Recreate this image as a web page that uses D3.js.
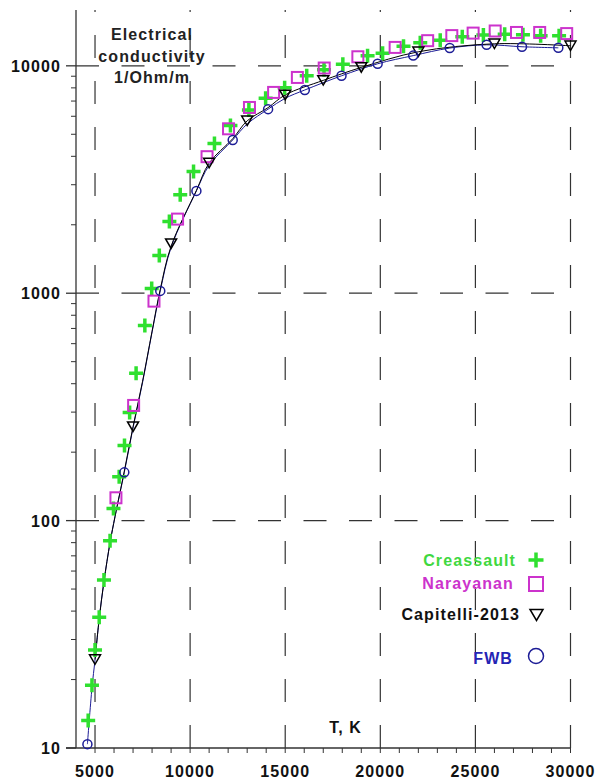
<!DOCTYPE html>
<html>
<head>
<meta charset="utf-8">
<script src="https://cdn.jsdelivr.net/npm/d3@7"></script>
<style>
  body { margin: 0; background: #fff; }
  text { font-family: "Liberation Sans", Arial, sans-serif; font-weight: bold; font-size: 16px; letter-spacing: 1.1px; }
</style>
</head>
<body>
<div id="chart"></div>
<script>
const width = 600;
const height = 781;

// data (T in K, conductivity in 1/Ohm/m)
const creassaultT = [4640, 4840, 5000, 5220, 5470, 5790, 5970, 6270, 6550, 6820, 7160, 7620, 7980, 8380, 8910, 9480, 10180, 11280, 12120, 13090, 13970, 14970, 16130, 17040, 18030, 19330, 20120, 21220, 22100, 23150, 24310, 25420, 26540, 27500, 28430, 29400];
const creassaultV = [13.2, 18.9, 27, 37.6, 54.8, 81.6, 113, 156, 214, 299, 445, 722, 1050, 1466, 2065, 2711, 3430, 4550, 5470, 6400, 7210, 8010, 9040, 9600, 10160, 11070, 11370, 12190, 12620, 12940, 13420, 13680, 13770, 13700, 13550, 13550];

const narayananT = [6100, 7030, 8100, 9340, 10890, 12020, 13120, 14390, 15640, 17050, 18820, 20780, 22490, 23760, 24880, 26040, 27160, 28380, 29800];
const narayananV = [126, 321, 923, 2118, 3985, 5285, 6560, 7640, 8890, 9780, 10960, 12050, 12900, 13580, 13930, 14230, 14020, 14020, 13860];

const capitelliT = [5000, 7000, 9000, 11000, 13000, 15000, 17000, 19000, 22000, 26000, 30000];
const capitelliV = [24.5, 259, 1652, 3736, 5730, 7450, 8630, 9840, 11530, 12500, 12250];

const fwbT = [4600, 6540, 8430, 10330, 12240, 14100, 16030, 17960, 19860, 21730, 23650, 25590, 27450, 29360];
const fwbV = [10.4, 163, 1024, 2818, 4720, 6450, 7830, 9040, 10210, 11090, 11970, 12370, 12130, 12000];

// calculated curves
const capLineT = [5000, 5220, 5470, 5790, 6050, 6540, 7000, 7500, 8000, 8430, 9000, 10330, 11000, 12240, 13000, 14100, 15000, 17000, 19000, 22000, 26000, 30000];
const capLineV = [24.5, 37, 54, 80, 104, 165, 259, 410, 680, 1040, 1610, 2830, 3736, 4780, 5730, 6550, 7450, 8630, 9840, 11530, 12500, 12250];
const fwbLineT = [4600, 4840, 5000, 5220, 5470, 5790, 6050, 6540, 7000, 7500, 8000, 8430, 9000, 10330, 11000, 12240, 13000, 14100, 15000, 16030, 17960, 19860, 21730, 23650, 25590, 27450, 29360];
const fwbLineV = [10.4, 18.4, 24.4, 37, 54, 80, 104, 163, 256, 405, 675, 1024, 1590, 2818, 3650, 4720, 5550, 6450, 7200, 7830, 9040, 10210, 11090, 11970, 12370, 12130, 12000];

const xTicks = [5000, 10000, 15000, 20000, 25000, 30000];
const yTicks = [10, 100, 1000, 10000];
const titleLines = ["Electrical", "conductivity", "1/Ohm/m"];

const colGreen = "#2fe02f";
const colMagenta = "#cc33cc";
const colNavy = "#1c1c96";

const zip = (a, b) => a.map((d, i) => [d, b[i]]);

const svg = d3.select("#chart")
  .append("svg")
  .attr("width", width)
  .attr("height", height);

const x = d3.scaleLinear().domain([4000, 30000]).range([76, 570.5]);
const y = d3.scaleLog().domain([10, 17600]).range([748, 10]);

// dashed grid
svg.append("g")
  .selectAll("line")
  .data(xTicks)
  .join("line")
    .attr("x1", d => x(d)).attr("x2", d => x(d))
    .attr("y1", y(10)).attr("y2", y.range()[1])
    .attr("stroke", "#333")
    .attr("stroke-width", 1.2)
    .attr("stroke-dasharray", "23,23");

svg.append("g")
  .selectAll("line")
  .data(yTicks.slice(1))
  .join("line")
    .attr("x1", x(4000)).attr("x2", x(30000))
    .attr("y1", d => y(d)).attr("y2", d => y(d))
    .attr("stroke", "#333")
    .attr("stroke-width", 1.2)
    .attr("stroke-dasharray", "23,22.5");

// y axis
const minorY = [];
for (let dec = 10; dec < 10000; dec *= 10) {
  for (let k = 2; k <= 9; k++) minorY.push(dec * k);
}
svg.append("line")
  .attr("x1", x(4000)).attr("x2", x(4000))
  .attr("y1", y(10)).attr("y2", y.range()[1])
  .attr("stroke", "#333").attr("stroke-width", 1.3);
svg.append("g")
  .selectAll("line")
  .data(minorY)
  .join("line")
    .attr("x1", x(4000) - 5).attr("x2", x(4000))
    .attr("y1", d => y(d)).attr("y2", d => y(d))
    .attr("stroke", "#333");
svg.append("g")
  .selectAll("line")
  .data(yTicks)
  .join("line")
    .attr("x1", x(4000) - 10).attr("x2", x(4000))
    .attr("y1", d => y(d)).attr("y2", d => y(d))
    .attr("stroke", "#333").attr("stroke-width", 1.3);
svg.append("g")
  .selectAll("text")
  .data(yTicks)
  .join("text")
    .attr("x", 61)
    .attr("y", d => y(d) + 6)
    .attr("text-anchor", "end")
    .attr("fill", "#111")
    .text(d => d);

// x axis
svg.append("line")
  .attr("x1", x(4000) - 10).attr("x2", x(30000))
  .attr("y1", y(10)).attr("y2", y(10))
  .attr("stroke", "#333").attr("stroke-width", 1.3);
svg.append("g")
  .selectAll("line")
  .data(d3.range(5000, 30001, 1000))
  .join("line")
    .attr("x1", d => x(d)).attr("x2", d => x(d))
    .attr("y1", y(10)).attr("y2", y(10) + 5)
    .attr("stroke", "#333");
svg.append("g")
  .selectAll("text")
  .data(xTicks)
  .join("text")
    .attr("x", d => x(d))
    .attr("y", 777)
    .attr("text-anchor", "middle")
    .attr("fill", "#111")
    .text(d => d);

svg.append("text")
  .attr("x", 362).attr("y", 733)
  .attr("text-anchor", "end")
  .attr("fill", "#111")
  .text("T, K");

svg.append("g")
  .selectAll("text")
  .data(titleLines)
  .join("text")
    .attr("x", 152)
    .attr("y", (d, i) => 40 + i * 21.5)
    .attr("text-anchor", "middle")
    .attr("fill", "#222")
    .text(d => d);

// curves
const line = d3.line()
  .x(d => x(d[0]))
  .y(d => y(d[1]))
  .curve(d3.curveCatmullRom.alpha(0.5));

svg.append("path")
  .attr("d", line(zip(fwbLineT, fwbLineV)))
  .attr("fill", "none")
  .attr("stroke", colNavy)
  .attr("stroke-width", 1);
svg.append("path")
  .attr("d", line(zip(capLineT, capLineV)))
  .attr("fill", "none")
  .attr("stroke", "#000")
  .attr("stroke-width", 1);

// markers
function plus(g, cx, cy, h, w) {
  g.append("path")
    .attr("d", `M${cx - h},${cy}H${cx + h}M${cx},${cy - h}V${cy + h}`)
    .attr("stroke", colGreen)
    .attr("stroke-width", w)
    .attr("fill", "none");
}
function square(g, cx, cy, s) {
  g.append("rect")
    .attr("x", cx - s / 2).attr("y", cy - s / 2)
    .attr("width", s).attr("height", s)
    .attr("fill", "none")
    .attr("stroke", colMagenta)
    .attr("stroke-width", 2);
}
function triangle(g, cx, cy, w, h) {
  g.append("path")
    .attr("d", `M${cx - w / 2},${cy - h / 2}L${cx + w / 2},${cy - h / 2}L${cx},${cy + h / 2}Z`)
    .attr("fill", "none")
    .attr("stroke", "#000")
    .attr("stroke-width", 1.5);
}
function circle(g, cx, cy, r) {
  g.append("circle")
    .attr("cx", cx).attr("cy", cy).attr("r", r)
    .attr("fill", "none")
    .attr("stroke", colNavy)
    .attr("stroke-width", 1.5);
}

const gPlus = svg.append("g");
zip(creassaultT, creassaultV).forEach(d => plus(gPlus, x(d[0]), y(d[1]), 7, 3.5));
const gSq = svg.append("g");
zip(narayananT, narayananV).forEach(d => square(gSq, x(d[0]), y(d[1]), 11));
const gTri = svg.append("g");
zip(capitelliT, capitelliV).forEach(d => triangle(gTri, x(d[0]), y(d[1]), 11, 9.5));
const gCirc = svg.append("g");
zip(fwbT, fwbV).forEach(d => circle(gCirc, x(d[0]), y(d[1]), 4.5));

// legend
const legend = svg.append("g");
legend.append("text").attr("x", 516).attr("y", 566).attr("text-anchor", "end").attr("fill", "#3fd83f").text("Creassault");
plus(legend, 536, 560, 7.5, 3.5);
legend.append("text").attr("x", 514).attr("y", 589).attr("text-anchor", "end").attr("fill", colMagenta).text("Narayanan");
square(legend, 536, 584, 14);
legend.append("text").attr("x", 520).attr("y", 620).attr("text-anchor", "end").attr("fill", "#111").text("Capitelli-2013");
triangle(legend, 536.5, 615, 13, 11);
legend.append("text").attr("x", 513).attr("y", 664).attr("text-anchor", "end").attr("fill", "#2424b4").text("FWB");
circle(legend, 536, 656, 7.5);
</script>
</body>
</html>
